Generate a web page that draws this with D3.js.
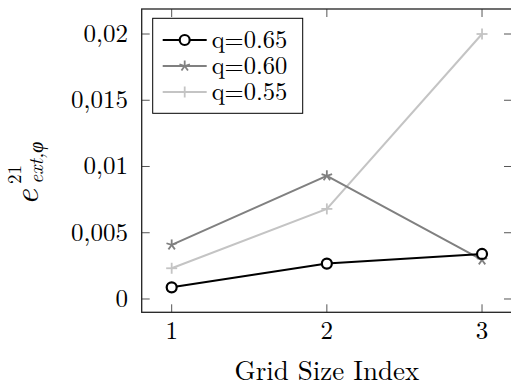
<!DOCTYPE html>
<html><head><meta charset="utf-8">
<script src="https://cdn.jsdelivr.net/npm/d3@7"></script>
<style>body{margin:0;background:#fff}svg{display:block}</style>
</head><body>
<svg id="c" width="511" height="390"></svg>
<script>
const gridIndex = [1, 2, 3];
const seriesNames = ["q=0.65", "q=0.60", "q=0.55"];
const q065 = [0.00088, 0.00267, 0.00340];
const q060 = [0.00408, 0.00930, 0.00295];
const q055 = [0.00232, 0.00680, 0.02000];
const yTicks = [0, 0.005, 0.01, 0.015, 0.02];
const yTickLabels = ["0", "0,005", "0,01", "0,015", "0,02"];
const xTicks = [1, 2, 3];
const xLabel = "Grid Size Index";
const FONT = "'Latin Modern Roman'";

const series = [
  {name: seriesNames[0], values: q065, color: "#000000", marker: "circle"},
  {name: seriesNames[1], values: q060, color: "#808080", marker: "star"},
  {name: seriesNames[2], values: q055, color: "#c4c4c4", marker: "plus"}
];

const svg = d3.select("#c");
const x = d3.scaleLinear().domain([0.8068, 3.1932]).range([141.7, 512]);
const y = d3.scaleLinear().domain([-0.001004, 0.021887]).range([312.3, 9]);
const [x0, x1] = x.range(), [y0, y1] = y.range();
const tickLen = 8;

const tg = svg.append("g").attr("stroke", "#555").attr("stroke-width", 1);
yTicks.forEach(v => {
  tg.append("line").attr("x1", x0).attr("x2", x0 + tickLen).attr("y1", y(v)).attr("y2", y(v));
  tg.append("line").attr("x1", x1).attr("x2", x1 - tickLen).attr("y1", y(v)).attr("y2", y(v));
});
xTicks.forEach(v => {
  tg.append("line").attr("x1", x(v)).attr("x2", x(v)).attr("y1", y0).attr("y2", y0 - tickLen);
  tg.append("line").attr("x1", x(v)).attr("x2", x(v)).attr("y1", y1).attr("y2", y1 + tickLen);
});

svg.append("rect").attr("x", x0).attr("y", y1).attr("width", x1 - x0).attr("height", y0 - y1)
  .attr("fill", "none").attr("stroke", "#222").attr("stroke-width", 1.3);

svg.append("g").selectAll("text").data(yTicks).join("text")
  .attr("font-family", FONT)
  .attr("x", 128).attr("y", d => y(d) + 8).attr("text-anchor", "end")
  .attr("font-size", 25).text((d, i) => yTickLabels[i]);
svg.append("g").selectAll("text").data(xTicks).join("text")
  .attr("font-family", FONT)
  .attr("x", d => x(d)).attr("y", 339).attr("text-anchor", "middle")
  .attr("font-size", 25).text(d => d);

svg.append("text").attr("font-family", FONT).attr("x", (x0 + x1) / 2).attr("y", 380).attr("text-anchor", "middle")
  .attr("font-size", 27).text(xLabel);
const yl = svg.append("g").attr("transform", "translate(38,205) rotate(-90)");
yl.append("text").attr("font-family", FONT).attr("x", 0).attr("y", 0).attr("font-size", 34).attr("font-style", "italic").text("e");
yl.append("text").attr("font-family", FONT).attr("x", 21).attr("y", -17).attr("font-size", 19).text("21");
yl.append("text").attr("font-family", FONT).attr("x", 21).attr("y", 5).attr("font-size", 20).attr("font-style", "italic").text("ext,φ");

function drawMarker(g, type, cx, cy, color) {
  if (type === "circle") {
    g.append("circle").attr("cx", cx).attr("cy", cy).attr("r", 5)
      .attr("fill", "#fff").attr("stroke", color).attr("stroke-width", 2.2);
  } else if (type === "star") {
    for (let k = 0; k < 5; k++) {
      const a = -Math.PI / 2 + k * 2 * Math.PI / 5;
      g.append("line").attr("x1", cx).attr("y1", cy)
        .attr("x2", cx + 5.5 * Math.cos(a)).attr("y2", cy + 5.5 * Math.sin(a))
        .attr("stroke", color).attr("stroke-width", 1.8);
    }
  } else {
    g.append("line").attr("x1", cx - 5.5).attr("x2", cx + 5.5).attr("y1", cy).attr("y2", cy)
      .attr("stroke", color).attr("stroke-width", 1.8);
    g.append("line").attr("x1", cx).attr("x2", cx).attr("y1", cy - 5.5).attr("y2", cy + 5.5)
      .attr("stroke", color).attr("stroke-width", 1.8);
  }
}

const line = d3.line().x((d, i) => x(gridIndex[i])).y(d => y(d));
[2, 1, 0].forEach(si => {
  const s = series[si];
  const g = svg.append("g");
  g.append("path").attr("d", line(s.values)).attr("fill", "none")
    .attr("stroke", s.color).attr("stroke-width", 2);
  s.values.forEach((v, i) => drawMarker(g, s.marker, x(gridIndex[i]), y(v), s.color));
});

const lg = svg.append("g");
lg.append("rect").attr("x", 152.7).attr("y", 18.3).attr("width", 150).attr("height", 95)
  .attr("fill", "#fff").attr("stroke", "#000").attr("stroke-width", 1);
series.forEach((s, i) => {
  const ry = 40 + i * 26;
  lg.append("line").attr("x1", 162.7).attr("x2", 206.7).attr("y1", ry).attr("y2", ry)
    .attr("stroke", s.color).attr("stroke-width", 2);
  drawMarker(lg, s.marker, 184.7, ry, s.color);
  lg.append("text").attr("font-family", FONT).attr("x", 211.7).attr("y", ry + 8).attr("font-size", 24.5).text(s.name);
});
</script>
</body></html>
